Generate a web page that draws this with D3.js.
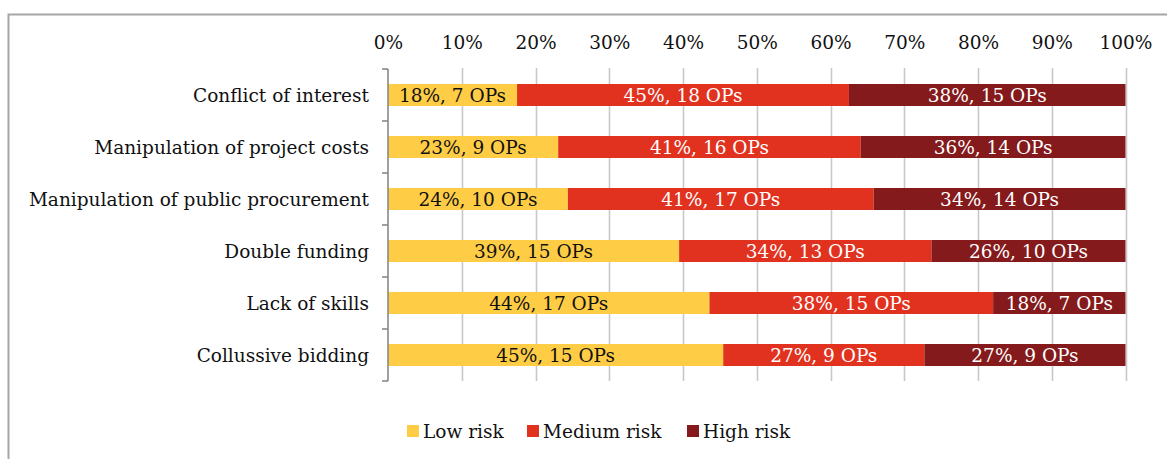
<!DOCTYPE html>
<html><head><meta charset="utf-8">
<script src="https://cdn.jsdelivr.net/npm/d3@7"></script>
<style>
html,body{margin:0;padding:0;background:#fff;overflow:hidden}
text{font-family:"DejaVu Serif",Georgia,serif}
</style></head>
<body><svg id="c" width="1167" height="459"></svg>
<script>
const categories = ["Conflict of interest","Manipulation of project costs","Manipulation of public procurement","Double funding","Lack of skills","Collussive bidding"];
const seriesNames = ["Low risk","Medium risk","High risk"];
const lowOPs = [7,9,10,15,17,15];
const mediumOPs = [18,16,17,13,15,9];
const highOPs = [15,14,14,10,7,9];
const lowPct = [18,23,24,39,44,45];
const mediumPct = [45,41,41,34,38,27];
const highPct = [38,36,34,26,18,27];
const tickValues = [0,0.1,0.2,0.3,0.4,0.5,0.6,0.7,0.8,0.9,1];
const colors = ["#FFCD45","#E1321F","#841A1B"];
const textColors = ["#111","#fff","#fff"];

const svg = d3.select("#c");
const fontSize = 18.5;

svg.append("rect").attr("x",8.5).attr("y",14.5).attr("width",1300).attr("height",600)
  .attr("fill","none").attr("stroke","#a6a6a6").attr("stroke-width",2);

const x = d3.scaleLinear().domain([0,1]).range([388,1125.5]);
const y = d3.scaleBand().domain(categories).range([69,381]).paddingInner(0.577).paddingOuter(0.2885);

// gridlines
svg.append("g").selectAll("line").data(tickValues.slice(1)).join("line")
  .attr("x1",d=>Math.round(x(d))+0.5).attr("x2",d=>Math.round(x(d))+0.5)
  .attr("y1",68).attr("y2",381).attr("stroke","#c8c8c8").attr("stroke-width",1.6);

// top axis labels
const xAxis = d3.axisTop(x).tickValues(tickValues).tickFormat(d3.format(".0%")).tickSize(0).tickPadding(0);
const gx = svg.append("g").attr("transform","translate(0,49)").call(xAxis);
gx.select(".domain").remove();
gx.selectAll("text").attr("font-size",fontSize).attr("fill","#111").attr("font-family","DejaVu Serif");

// stacked data
const rows = categories.map((c,i)=>{
  const counts=[lowOPs[i],mediumOPs[i],highOPs[i]];
  const pcts=[lowPct[i],mediumPct[i],highPct[i]];
  const tot=d3.sum(counts);
  let acc=0;
  return counts.map((v,j)=>{const s={cat:c,j,x0:acc/tot,x1:(acc+v)/tot,label:pcts[j]+"%, "+v+" OPs"};acc+=v;return s;});
}).flat();

svg.append("g").selectAll("rect").data(rows).join("rect")
  .attr("x",d=>x(d.x0)).attr("width",d=>x(d.x1)-x(d.x0))
  .attr("y",d=>y(d.cat)).attr("height",y.bandwidth())
  .attr("fill",d=>colors[d.j]);

svg.append("g").selectAll("text").data(rows).join("text")
  .attr("x",d=>(x(d.x0)+x(d.x1))/2).attr("y",d=>y(d.cat)+y.bandwidth()/2)
  .attr("dy","0.36em").attr("text-anchor","middle")
  .attr("font-size",fontSize).attr("fill",d=>textColors[d.j]).text(d=>d.label);

// y axis with boundary ticks
const ya = svg.append("g");
ya.append("line").attr("x1",388).attr("x2",388).attr("y1",69).attr("y2",381).attr("stroke","#888").attr("stroke-width",1.6);
const bounds = categories.map(c=>y(c)-y.step()*y.paddingInner()/2).concat([381]);
bounds[0]=69;
ya.selectAll("line.t").data(bounds).join("line").attr("class","t")
  .attr("x1",382).attr("x2",388).attr("y1",d=>d).attr("y2",d=>d).attr("stroke","#888").attr("stroke-width",1.6);
ya.selectAll("text").data(categories).join("text")
  .attr("x",369).attr("y",d=>y(d)+y.bandwidth()/2).attr("dy","0.36em")
  .attr("text-anchor","end").attr("font-size",fontSize).attr("fill","#111").text(d=>d);

// legend
const legX=[407,527,687];
const lg = svg.append("g").selectAll("g").data(seriesNames).join("g")
  .attr("transform",(d,i)=>`translate(${legX[i]},425)`);
lg.append("rect").attr("width",12).attr("height",12).attr("fill",(d,i)=>colors[i]);
lg.append("text").attr("x",16).attr("y",6).attr("dy","0.36em").attr("font-size",fontSize).attr("fill","#111").text(d=>d);
</script></body></html>
